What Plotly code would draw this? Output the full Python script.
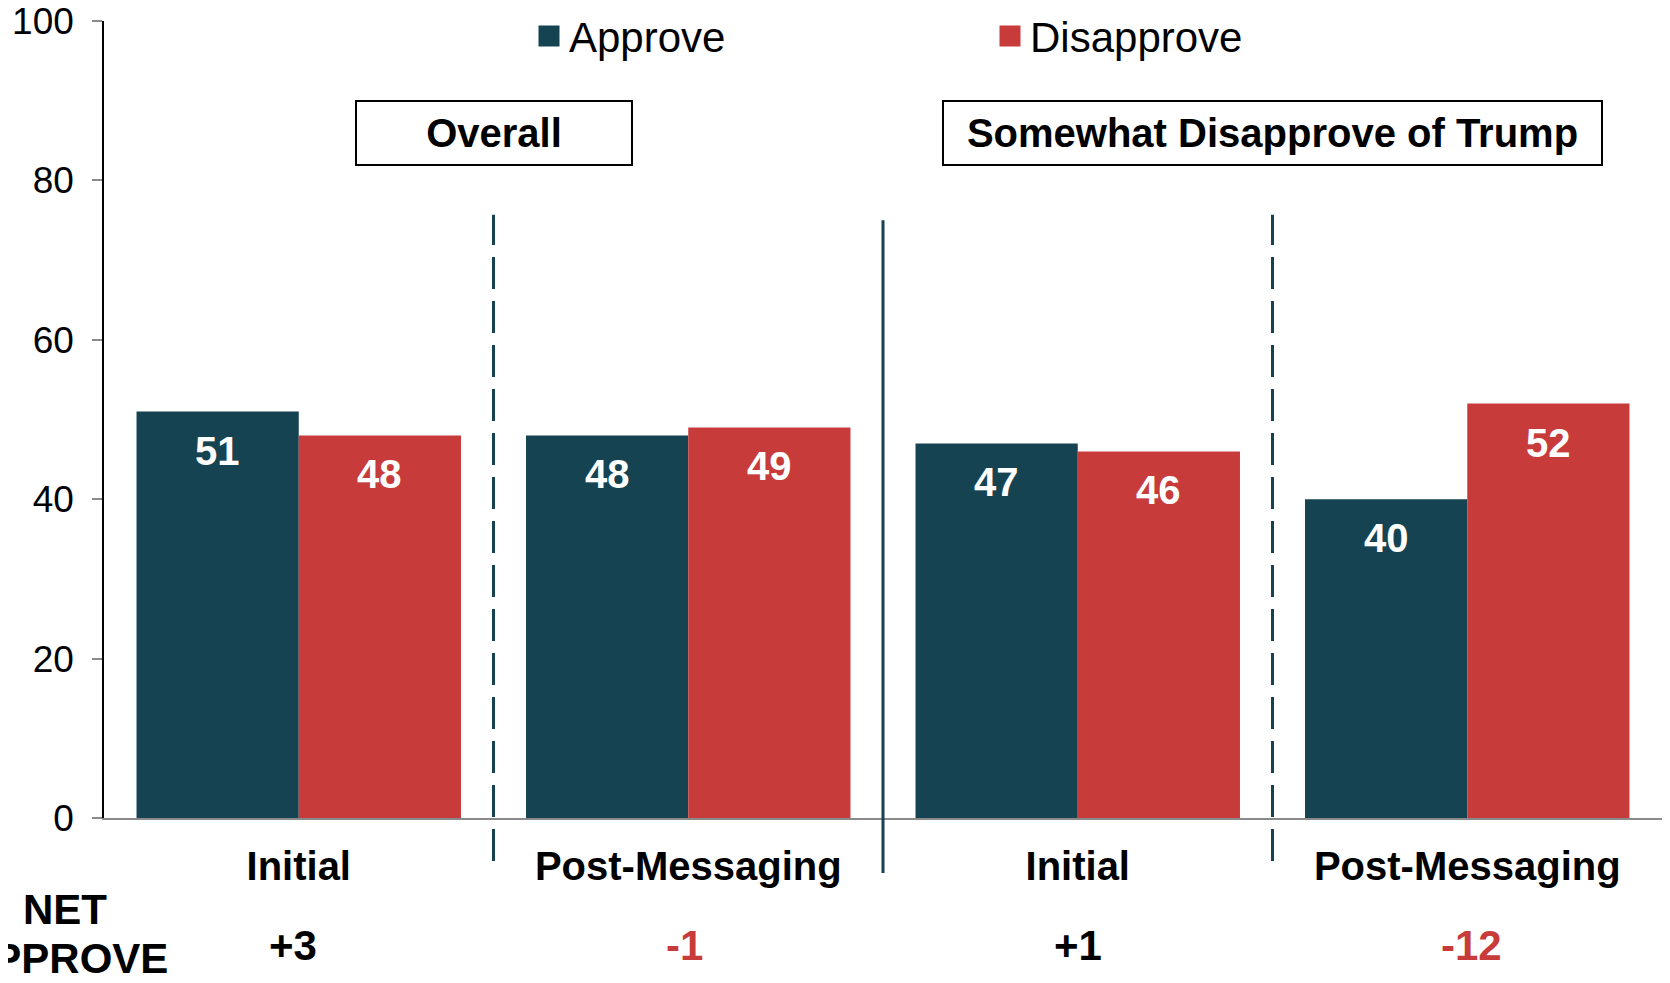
import plotly.graph_objects as go

# ---- data ----
stages = ["Initial", "Post-Messaging", "Initial", "Post-Messaging"]
approve = [51, 48, 47, 40]
disapprove = [48, 49, 46, 52]
panels = ["Overall", "Somewhat Disapprove of Trump"]
y_ticks = [0, 20, 40, 60, 80, 100]

APPROVE_C = "#154352"
DISAPPROVE_C = "#C83B3B"
FONT = "Liberation Sans, Arial, sans-serif"
BARGAP = 0.167

# figure is placed by the page with an 8px body margin
W, H = 1654, 967
ML, MR, MT, MB = 96, 0, 13, 157
PW = W - ML - MR

xs = list(range(len(stages)))
net = [a - d for a, d in zip(approve, disapprove)]

fig = go.Figure()
fig.add_trace(go.Bar(x=xs, y=approve, name="Approve", marker_color=APPROVE_C,
                     marker_line_width=0, showlegend=False))
fig.add_trace(go.Bar(x=xs, y=disapprove, name="Disapprove", marker_color=DISAPPROVE_C,
                     marker_line_width=0, showlegend=False))
# legend entries (square markers)
fig.add_trace(go.Scatter(x=[None], y=[None], mode="markers", name="Approve",
                         marker=dict(symbol="square", size=16, color=APPROVE_C,
                                     line=dict(color=APPROVE_C, width=5)),
                         legend="legend"))
fig.add_trace(go.Scatter(x=[None], y=[None], mode="markers", name="Disapprove",
                         marker=dict(symbol="square", size=16, color=DISAPPROVE_C,
                                     line=dict(color=DISAPPROVE_C, width=5)),
                         legend="legend2"))

half = (1 - BARGAP) / 4
annotations = []
net_shift = [-6, -4, 0, 4]
for i in xs:
    for val, off in ((approve[i], -half), (disapprove[i], half)):
        annotations.append(dict(x=i + off, y=val, xref="x", yref="y", text=str(val),
                                showarrow=False, yanchor="middle", yshift=-39,
                                font=dict(family=FONT, size=40, color="white",
                                          weight="bold")))
    n = net[i]
    annotations.append(dict(x=i, y=-0.1606, xref="x", yref="paper",
                            text=("+%d" % n) if n > 0 else str(n), showarrow=False,
                            yanchor="middle", xshift=net_shift[i],
                            font=dict(family=FONT, size=42, weight="bold",
                                      color="black" if n > 0 else DISAPPROVE_C)))

net_x = (57 - ML) / PW
for txt, yy in (("NET", -0.1154), ("APPROVE", -0.1757)):
    annotations.append(dict(x=net_x, y=yy, xref="paper", yref="paper", xanchor="center",
                            text=txt, showarrow=False, yanchor="middle",
                            font=dict(family=FONT, size=42, weight="bold",
                                      color="black")))

# panel title boxes
for p, cx, w in zip(panels, [0.5, 2.5], [272, 655]):
    annotations.append(dict(x=cx, y=0.8595, xref="x", yref="paper", text=p,
                            showarrow=False, xanchor="center", yanchor="middle",
                            width=w, height=60, borderpad=1, bordercolor="black",
                            borderwidth=2, bgcolor="white",
                            font=dict(family=FONT, size=40, weight="bold",
                                      color="black")))

shapes = []
for xv, dash, y0, y1 in ((0.5, "32px,12px", -0.054, 0.757),
                         (1.5, "solid", -0.069, 0.750),
                         (2.5, "32px,12px", -0.054, 0.757)):
    shapes.append(dict(type="line", xref="x", yref="paper", x0=xv, x1=xv, y0=y0, y1=y1,
                       line=dict(color=APPROVE_C, width=3, dash=dash), layer="above"))

fig.update_layout(
    width=W, height=H,
    margin=dict(l=ML, r=MR, t=MT, b=MB, autoexpand=False),
    paper_bgcolor="white", plot_bgcolor="white",
    barmode="group", bargap=BARGAP, bargroupgap=0,
    font=dict(family=FONT, color="black"),
    annotations=annotations,
    shapes=shapes,
    legend=dict(x=(521 - ML) / PW, y=0.981, xanchor="left", yanchor="middle",
                orientation="h", bgcolor="rgba(0,0,0,0)",
                font=dict(family=FONT, size=42, color="black")),
    legend2=dict(x=(982 - ML) / PW, y=0.981, xanchor="left", yanchor="middle",
                 orientation="h", bgcolor="rgba(0,0,0,0)",
                 font=dict(family=FONT, size=42, color="black")),
)
fig.update_xaxes(range=[-0.5, 3.5], tickvals=xs, ticktext=stages, showgrid=False,
                 zeroline=False, showline=True, linecolor="#8a8a8a", linewidth=2,
                 ticks="", ticklabelstandoff=12, automargin=False,
                 ticklabeloverflow="allow",
                 tickfont=dict(family=FONT, size=40, weight="bold", color="black"))
fig.update_yaxes(range=[0, 100], tickvals=y_ticks, showgrid=False, zeroline=False,
                 showline=True, linecolor="black", linewidth=1.5,
                 ticks="outside", ticklen=10, tickcolor="#8a8a8a", tickwidth=2,
                 ticklabelstandoff=11, automargin=False,
                 ticklabeloverflow="allow",
                 tickfont=dict(family=FONT, size=37, color="black"))

fig.write_html("out.html")
